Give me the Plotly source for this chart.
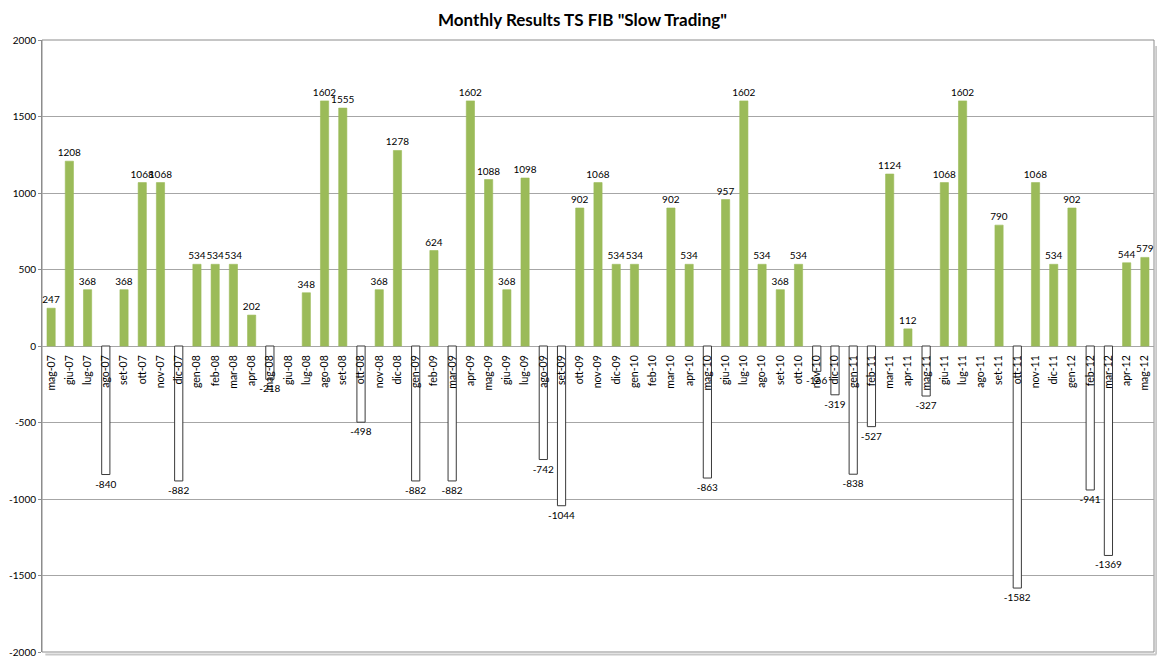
import plotly.graph_objects as go

months = ["mag-07","giu-07","lug-07","ago-07","set-07","ott-07","nov-07","dic-07",
          "gen-08","feb-08","mar-08","apr-08","mag-08","giu-08","lug-08","ago-08","set-08","ott-08","nov-08","dic-08",
          "gen-09","feb-09","mar-09","apr-09","mag-09","giu-09","lug-09","ago-09","set-09","ott-09","nov-09","dic-09",
          "gen-10","feb-10","mar-10","apr-10","mag-10","giu-10","lug-10","ago-10","set-10","ott-10","nov-10","dic-10",
          "gen-11","feb-11","mar-11","apr-11","mag-11","giu-11","lug-11","ago-11","set-11","ott-11","nov-11","dic-11",
          "gen-12","feb-12","mar-12","apr-12","mag-12"]
results = [247,1208,368,-840,368,1068,1068,-882,
           534,534,534,202,-218,0,348,1602,1555,-498,368,1278,
           -882,624,-882,1602,1088,368,1098,-742,-1044,902,1068,534,
           534,0,902,534,-863,957,1602,534,368,534,-166,-319,
           -838,-527,1124,112,-327,1068,1602,0,790,-1582,1068,534,
           902,-941,-1369,544,579]
y_ticks = [2000,1500,1000,500,0,-500,-1000,-1500,-2000]

fills = ["#9BBB59" if v >= 0 else "#FFFFFF" for v in results]
lines = ["rgba(155,187,89,0.6)" if v >= 0 else "#3A3A3A" for v in results]
line_w = [0 if v == 0 else 1 for v in results]
labels = ["" if v == 0 else str(v) for v in results]

FONT = "Lato, Open Sans, sans-serif"

fig = go.Figure()
fig.add_trace(go.Bar(
    x=months, y=results, width=0.45,
    marker=dict(color=fills, line=dict(color=lines, width=line_w)),
    text=labels, textposition="outside", cliponaxis=False, constraintext="none",
    textfont=dict(family=FONT, size=10, color="#000000"),
    hoverinfo="x+y",
))

fig.update_layout(
    width=1149, height=652,
    margin=dict(l=34, r=3, t=32, b=8, autoexpand=False),
    paper_bgcolor="white", plot_bgcolor="white",
    showlegend=False,
    title=dict(text='Monthly Results TS FIB "Slow Trading"', x=0.5, xanchor="center",
               y=1 - 12 / 652, yanchor="middle", automargin=False,
               font=dict(family=FONT, size=17, color="#000000", weight="bold")),
    font=dict(family=FONT, size=11, color="#000000"),
)
fig.update_xaxes(
    type="category", anchor="free", position=0.5, automargin=False,
    tickangle=-90, tickfont=dict(size=10.5, color="#000000"),
    showgrid=False, showline=False, ticks="outside", ticklen=4, tickcolor="rgba(0,0,0,0)",
    range=[-0.5, len(months) - 0.5],
)
fig.update_yaxes(
    range=[-2000, 2000], tickvals=y_ticks, ticktext=[str(t) for t in y_ticks],
    automargin=False,
    showgrid=True, gridcolor="#A6A6A6", gridwidth=1,
    zeroline=True, zerolinecolor="#A6A6A6", zerolinewidth=1,
    showline=True, linecolor="#8C8C8C", linewidth=1,
    ticks="outside", ticklen=3, tickcolor="#8C8C8C",
    tickfont=dict(size=10, color="#000000"),
)
# frame and shadow
fig.add_shape(type="rect", xref="paper", yref="paper", x0=0, y0=0, x1=1, y1=1,
              line=dict(color="#8C8C8C", width=1), layer="below")
fig.add_shape(type="line", xref="paper", yref="paper", x0=1.002, y0=-0.004, x1=1.002, y1=0.99,
              line=dict(color="#C8C8C8", width=2), layer="below")
fig.add_shape(type="line", xref="paper", yref="paper", x0=0.003, y0=-0.004, x1=1.002, y1=-0.004,
              line=dict(color="#C8C8C8", width=2), layer="below")

fig.write_html("out.html")
